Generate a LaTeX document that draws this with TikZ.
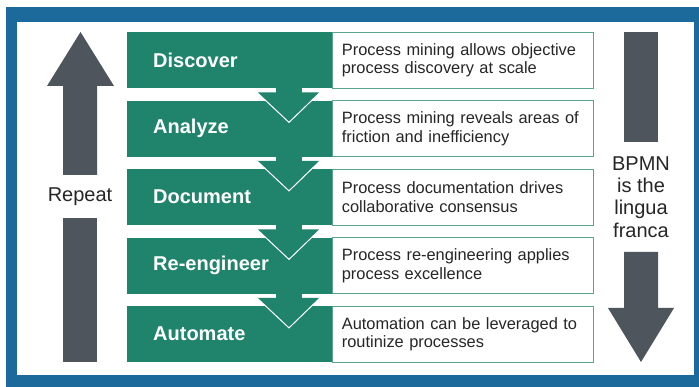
\documentclass[tikz,border=0pt]{standalone}
\usepackage{fontspec}
\setmainfont{Liberation Sans}
\usetikzlibrary{calc}
\definecolor{frameblue}{HTML}{1C6A9C}
\definecolor{stepgreen}{HTML}{1F846B}
\definecolor{edgeteal}{HTML}{5AA38E}
\definecolor{arrowgray}{HTML}{4E555C}
\definecolor{inkgray}{HTML}{262626}

\begin{document}
\begin{tikzpicture}[x=1pt,y=-1pt,
  stepbox/.style={fill=stepgreen, draw=none, minimum width=205pt, minimum height=56pt,
    inner xsep=26pt, inner ysep=0pt, text width=153pt, align=left, anchor=north west,
    text=white, font=\fontsize{20}{22}\selectfont\bfseries},
  descbox/.style={fill=white, draw=edgeteal, line width=0.9pt, minimum width=261pt,
    minimum height=56pt, inner xsep=9pt, inner ysep=0pt, text width=243pt, align=left,
    anchor=west, text=inkgray, font=\fontsize{16.4}{18.5}\selectfont},
  sidetext/.style={text=inkgray, align=center, inner sep=0pt,
    font=\fontsize{20}{22.3}\selectfont},
  flowdown/.style={fill=stepgreen},
  flowedge/.style={draw=white, line width=1pt}]

  % canvas and blue frame
  \useasboundingbox (0,0) rectangle (699,387);
  \fill[white] (0,0) rectangle (699,387);
  \fill[frameblue] (6,7) rectangle (699,387);
  \fill[white] (17,22) rectangle (694,375);

  % the five steps with their descriptions
  \foreach \i/\top/\title/\desc in {
      1/32/Discover/{Process mining allows objective\\process discovery at scale},
      2/100.5/Analyze/{Process mining reveals areas of\\friction and inefficiency},
      3/169/Document/{Process documentation drives\\collaborative consensus},
      4/237.5/Re-engineer/{Process re-engineering applies\\process excellence},
      5/306/Automate/{Automation can be leveraged to\\routinize processes}} {
    \node[stepbox] (s\i) at (127,\top) {\title};
    \node[descbox] (d\i) at (s\i.east) {\desc};
  }

  % chevrons leading from one step into the next
  \foreach \i/\j in {1/2,2/3,3/4,4/5} {
    \fill[flowdown] ($(s\i.south west)+(149,-1)$) rectangle ($(s\i.south west)+(175,4.5)$);
    \fill[flowdown] ($(s\i.south west)+(130,4)$) -- ($(s\i.south west)+(162,34)$)
      -- ($(s\i.south west)+(193,4)$) -- cycle;
    \draw[flowedge] ($(s\i.south west)+(130,4)$) -- ($(s\i.south west)+(162,34)$)
      -- ($(s\i.south west)+(193,4)$);
  }

  % left: repeat arrow pointing up
  \fill[arrowgray] (80.5,32) -- (114,86) -- (97,86) -- (97,175) -- (63,175) -- (63,86)
    -- (47,86) -- cycle;
  \node[sidetext] (repeat) at (80,197) {Repeat};
  \fill[arrowgray] (63,218) rectangle (97,362);

  % right: arrow pointing down
  \fill[arrowgray] (624,32) rectangle (658,142);
  \node[sidetext] (lingua) at (641,197) {BPMN\\is the\\lingua\\franca};
  \fill[arrowgray] (624,252) -- (658,252) -- (658,308) -- (674,308) -- (641,362)
    -- (608,308) -- (624,308) -- cycle;
\end{tikzpicture}
\end{document}
